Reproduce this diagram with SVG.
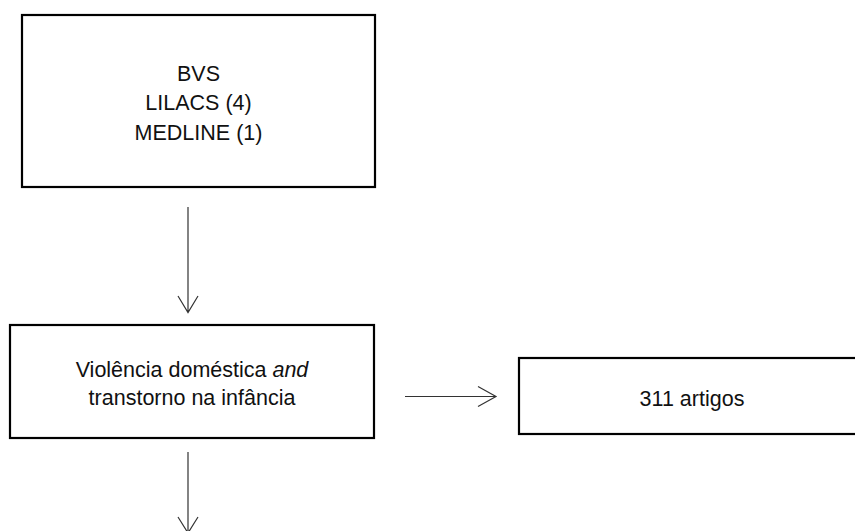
<svg xmlns="http://www.w3.org/2000/svg" width="855" height="531" viewBox="0 0 855 531">
<defs>
<style>
.box{fill:#fff;stroke:#000;stroke-width:2.2}
.t{font-family:"Liberation Sans",Arial,sans-serif;font-size:21.5px;fill:#111;text-anchor:middle}
.c{fill:none;stroke:#333;stroke-width:1.2}
</style>
</defs>
<rect width="855" height="531" fill="#fff"/>
<g id="node-bvs">
<rect class="box" x="22" y="15" width="353" height="172"/>
<text class="t" x="198.5" y="80.5">BVS</text>
<text class="t" x="198.5" y="110">LILACS (4)</text>
<text class="t" x="198.5" y="139.5">MEDLINE (1)</text>
</g>
<g id="node-query">
<rect class="box" x="10" y="325" width="364" height="113"/>
<text class="t" x="192" y="376.5">Violência doméstica <tspan font-style="italic">and</tspan></text>
<text class="t" x="192" y="405">transtorno na infância</text>
</g>
<g id="node-result">
<rect class="box" x="519" y="358" width="350" height="76"/>
<text class="t" x="692" y="406">311 artigos</text>
</g>
<g id="connectors">
<path class="c" d="M188,207 V312.5 M178,296 L188,312.5 L198,296"/>
<path class="c" d="M405,396.5 H496 M478,386.5 L496,396.5 L478,406.5"/>
<path class="c" d="M188,452 V533 M178,517 L188,533 L198,517"/>
</g>
</svg>
